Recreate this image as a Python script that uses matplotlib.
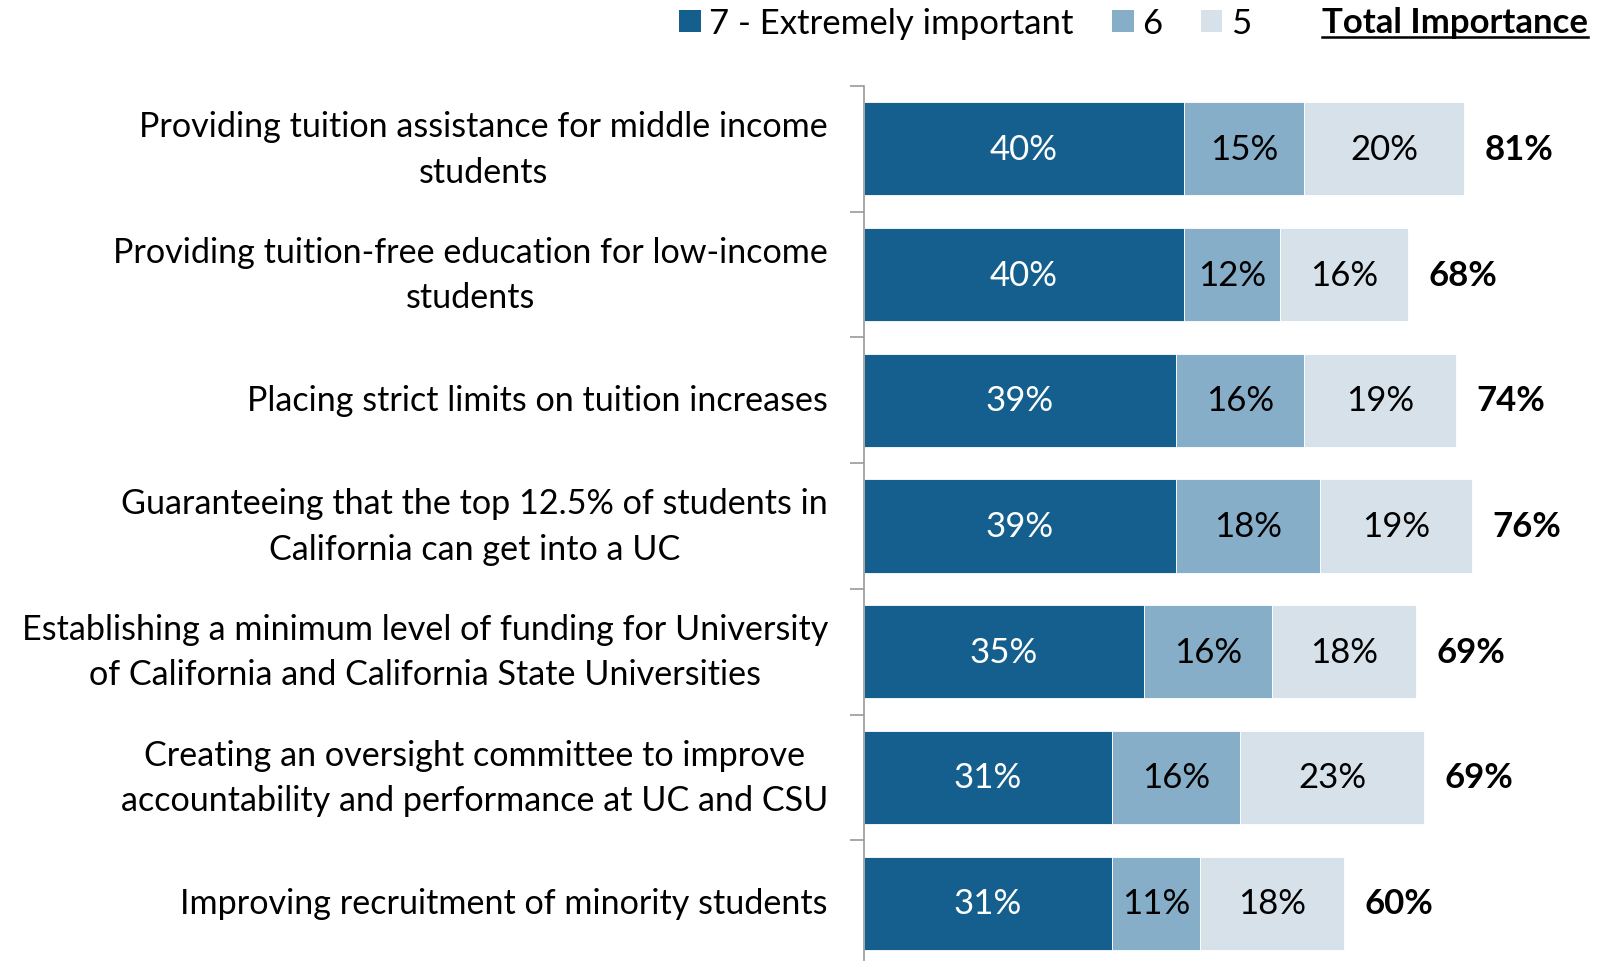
import matplotlib
matplotlib.use("Agg")
import matplotlib.pyplot as plt
from matplotlib.patches import Patch
from matplotlib.lines import Line2D
import numpy as np

plt.rcParams['font.family'] = ['Lato', 'DejaVu Sans']

categories = [
    "Providing tuition assistance for middle income\nstudents",
    "Providing tuition-free education for low-income\nstudents",
    "Placing strict limits on tuition increases",
    "Guaranteeing that the top 12.5% of students in\nCalifornia can get into a UC",
    "Establishing a minimum level of funding for University\nof California and California State Universities",
    "Creating an oversight committee to improve\naccountability and performance at UC and CSU",
    "Improving recruitment of minority students",
]
v7 = [40, 40, 39, 39, 35, 31, 31]
v6 = [15, 12, 16, 18, 16, 16, 11]
v5 = [20, 16, 19, 19, 18, 23, 18]
total = [81, 68, 74, 76, 69, 69, 60]
series_names = ["7 - Extremely important", "6", "5"]
colors = ["#155f8f", "#87aec8", "#d6e1ea"]
text_colors = ["white", "black", "black"]

W, H = 1598, 962
fig = plt.figure(figsize=(W / 100, H / 100), dpi=100)
left = 864 / W
width = 800 / W
top = 1 - 87 / H
bottom = -5 / H
ax = fig.add_axes([left, bottom, width, top - bottom])

n = len(categories)
y = np.arange(n)
fs = 25
lfs = 24.6
lefts = np.zeros(n)
for vals, col, tc in zip([v7, v6, v5], colors, text_colors):
    vals = np.array(vals, dtype=float)
    ax.barh(y, vals, left=lefts, height=0.74, color=col, edgecolor='white', linewidth=0.6)
    for yi, l, v in zip(y, lefts, vals):
        ax.text(l + v / 2, yi, f"{int(v)}%", ha='center', va='center', color=tc, fontsize=fs)
    lefts = lefts + vals
for yi, end, t in zip(y, lefts, total):
    ax.text(end + 2.6, yi, f"{t}%", ha='left', va='center', fontsize=fs, fontweight='bold', color='black')

ax.set_xlim(0, 100)
ax.set_ylim(n - 0.5, -0.5)
ax.set_xticks([])
ax.set_yticks(np.arange(n + 1) - 0.5)
ax.set_yticklabels([])
ax.set_yticks(y, minor=True)
ax.set_yticklabels(categories, minor=True, fontsize=lfs, linespacing=1.52)
for lab in ax.get_yticklabels(minor=True):
    lab.set_multialignment('center')
    lab.set_verticalalignment('center')
ax.tick_params(axis='y', which='major', length=10, width=1.2, color='#999999', direction='out')
ax.tick_params(axis='y', which='minor', length=0, pad=26)
for s in ['top', 'right', 'bottom']:
    ax.spines[s].set_visible(False)
ax.spines['left'].set_color('#999999')
ax.spines['left'].set_linewidth(1.2)

handles = [Patch(facecolor=c, edgecolor='none') for c in colors]
leg = fig.legend(handles, series_names, loc='center right', bbox_to_anchor=(1251 / W, 1 - 24 / H),
                 ncol=3, frameon=False, fontsize=fs, handlelength=0.62, handleheight=0.62,
                 handletextpad=0.25, columnspacing=1.1, borderaxespad=0.0, borderpad=0.0)

ti = fig.text(1588 / W, 1 - 23 / H, "Total Importance", ha='right', va='center', fontsize=fs,
              fontweight='bold')
fig.canvas.draw()
bb = ti.get_window_extent()
fig.add_artist(Line2D([bb.x0 / W, bb.x1 / W], [(bb.y0 + 1) / H, (bb.y0 + 1) / H],
                      transform=fig.transFigure, color='black', linewidth=1.8))

fig.savefig("out.png", dpi=100)
